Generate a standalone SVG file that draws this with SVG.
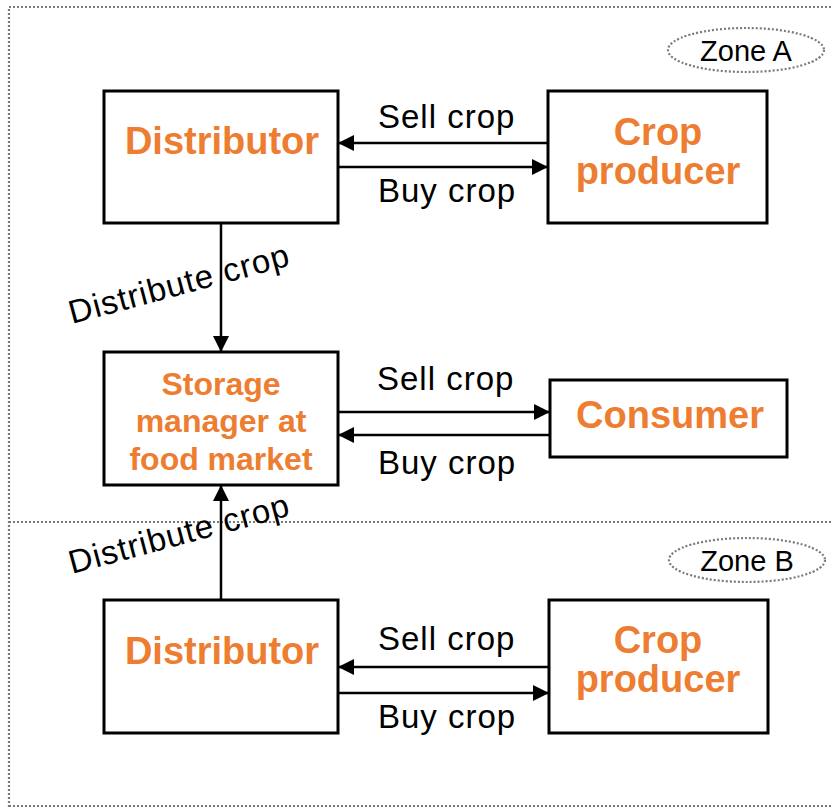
<svg xmlns="http://www.w3.org/2000/svg" width="833" height="809" viewBox="0 0 833 809">
<defs>
<style>
.zone{fill:none;stroke:#7a7a7a;stroke-width:2.2;stroke-dasharray:2 2}
.box{fill:#fff;stroke:#000;stroke-width:3}
.lbl{font-family:"Liberation Sans",Arial,sans-serif;font-size:33px;letter-spacing:1px;fill:#000}
.node{font-family:"Liberation Sans",Arial,sans-serif;font-weight:bold;font-size:38px;fill:#ED7D31;text-anchor:middle}
.small{font-size:32px}
.ztxt{font-family:"Liberation Sans",Arial,sans-serif;font-size:29px;fill:#000;text-anchor:middle}
.conn{stroke:#000;stroke-width:2.5;fill:none;marker-end:url(#arr)}
</style>
<marker id="arr" markerUnits="userSpaceOnUse" markerWidth="16" markerHeight="16" refX="16" refY="8" orient="auto" viewBox="0 0 16 16">
<path d="M0,0 L16,8 L0,16 z" fill="#000"/>
</marker>
</defs>
<rect width="833" height="809" fill="#fff"/>
<g id="zones">
<path class="zone" d="M9,807 V7 H833"/>
<path class="zone" d="M9,522 H833"/>
<path class="zone" d="M9,806 H833"/>
<ellipse class="zone" cx="746" cy="50" rx="78" ry="22"/>
<text class="ztxt" x="746" y="61">Zone A</text>
<ellipse class="zone" cx="747" cy="560" rx="78" ry="22"/>
<text class="ztxt" x="747" y="571">Zone B</text>
</g>
<g id="connectors">
<line class="conn" x1="548" y1="143" x2="338" y2="143"/>
<line class="conn" x1="338" y1="167" x2="548" y2="167"/>
<line class="conn" x1="221" y1="223" x2="221" y2="352"/>
<line class="conn" x1="338" y1="412" x2="550" y2="412"/>
<line class="conn" x1="550" y1="435" x2="338" y2="435"/>
<line class="conn" x1="221" y1="600" x2="221" y2="485"/>
<line class="conn" x1="549" y1="667" x2="338" y2="667"/>
<line class="conn" x1="338" y1="693" x2="549" y2="693"/>
<text class="lbl" x="378" y="128">Sell crop</text>
<text class="lbl" x="378" y="202">Buy crop</text>
<text class="lbl" x="72" y="324" transform="rotate(-15 72 324)">Distribute crop</text>
<text class="lbl" x="377" y="390">Sell crop</text>
<text class="lbl" x="378" y="474">Buy crop</text>
<text class="lbl" x="72" y="574" transform="rotate(-15 72 574)">Distribute crop</text>
<text class="lbl" x="378" y="650">Sell crop</text>
<text class="lbl" x="378" y="728">Buy crop</text>
</g>
<g id="distributor-a">
<rect class="box" x="104" y="91" width="234" height="132"/>
<text class="node" x="222" y="154">Distributor</text>
</g>
<g id="producer-a">
<rect class="box" x="548" y="91" width="219" height="132"/>
<text class="node" x="658" y="145">Crop</text>
<text class="node" x="658" y="184">producer</text>
</g>
<g id="storage">
<rect class="box" x="104" y="352" width="234" height="133"/>
<text class="node small" x="221" y="395">Storage</text>
<text class="node small" x="221" y="432">manager at</text>
<text class="node small" x="221" y="470">food market</text>
</g>
<g id="consumer">
<rect class="box" x="550" y="380" width="237" height="77"/>
<text class="node" x="670" y="428">Consumer</text>
</g>
<g id="distributor-b">
<rect class="box" x="104" y="600" width="234" height="133"/>
<text class="node" x="222" y="664">Distributor</text>
</g>
<g id="producer-b">
<rect class="box" x="549" y="600" width="219" height="133"/>
<text class="node" x="658" y="653">Crop</text>
<text class="node" x="658" y="692">producer</text>
</g>
</svg>
